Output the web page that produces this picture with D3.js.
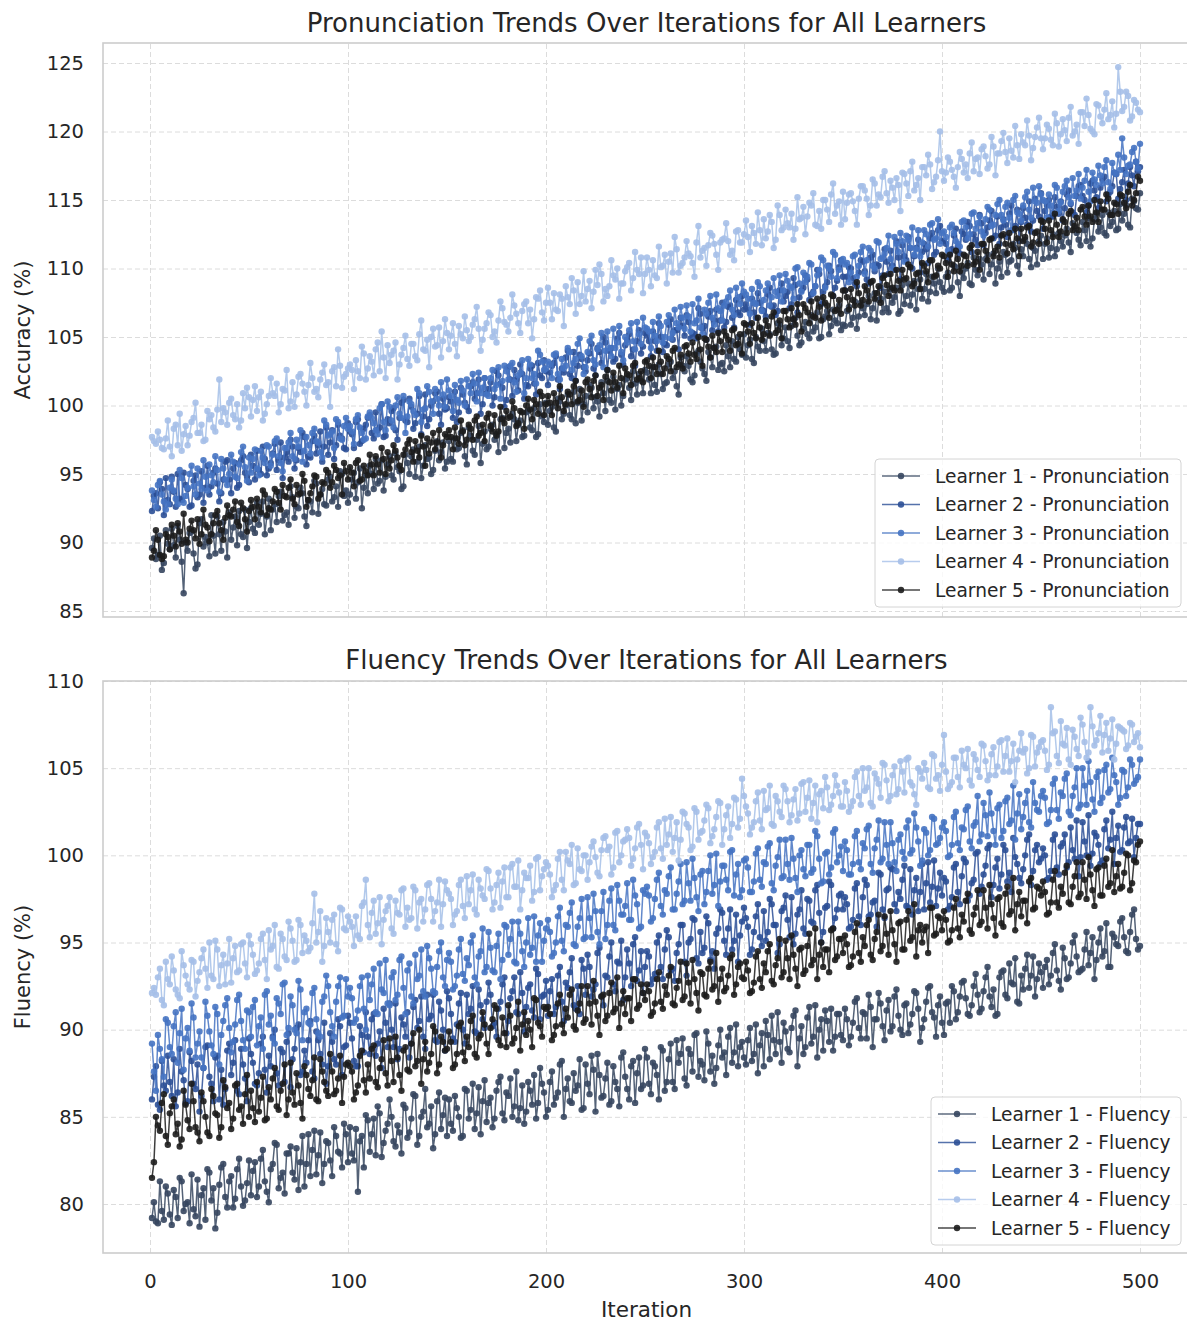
<!DOCTYPE html>
<html lang="en">
<head>
<meta charset="utf-8">
<script src="https://d3js.org/d3.v7.min.js"></script>
<style>
  body { margin: 0; background: #fff; }
  text { font-family: "DejaVu Sans", sans-serif; fill: #262626; }
  .grid line { stroke: #dcdcdc; stroke-dasharray: 5,3; stroke-width: 1; }
  .grid path { display: none; }
  .tick-label text { font-size: 19.5px; }
  .legend text { font-size: 18.6px; }
</style>
</head>
<body>
<div id="chart"></div>
<script>
/* Data */
var learners = ["Learner 1", "Learner 2", "Learner 3", "Learner 4", "Learner 5"];
var colors = ["#36465f", "#2b4f96", "#4573c2", "#a5bfe8", "#1c1c1c"];
var oddIterations = d3.range(1, 501, 2);
var evenIterations = d3.range(2, 501, 2);
var iterationTicks = [0, 100, 200, 300, 400, 500];
var accuracyTicks = [85, 90, 95, 100, 105, 110, 115, 120, 125];
var fluencyTicks = [80, 85, 90, 95, 100, 105, 110];

/* Pronunciation accuracy, odd iterations */
var pron1Odd = [
  89.6, 88.8, 90.5, 88.5, 89.9, 91.0, 88.9, 90.2, 86.3, 89.4, 90.8, 88.1, 91.4, 89.7, 90.0, 92.0, 89.2, 90.6, 91.5, 88.9, 90.2, 91.9, 92.3, 90.4, 89.6,
  92.5, 90.7, 91.3, 93.0, 91.9, 90.9, 92.8, 93.4, 91.6, 92.2, 94.1, 91.8, 92.5, 93.6, 91.2, 93.0, 94.5, 92.1, 93.9, 92.7, 94.8, 93.3, 92.6, 95.0, 93.8,
  93.5, 95.1, 94.4, 92.5, 94.9, 95.6, 93.9, 94.3, 96.0, 94.8, 96.3, 94.6, 95.5, 93.9, 96.4, 95.0, 96.8, 95.9, 94.7, 97.1, 96.2, 95.3, 97.4, 96.6, 95.4,
  97.4, 95.9, 96.8, 98.0, 96.3, 98.4, 96.7, 97.5, 95.8, 98.1, 97.0, 98.6, 97.9, 99.0, 96.9, 98.3, 99.4, 97.4, 98.9, 97.8, 99.6, 98.2, 97.7, 100.1, 98.8,
  98.6, 99.9, 98.1, 100.3, 99.4, 100.8, 99.0, 98.7, 101.2, 100.1, 99.5, 101.3, 100.6, 99.2, 100.9, 101.8, 100.2, 99.7, 101.5, 100.7, 102.0, 100.4, 101.6, 102.3, 100.9,
  102.4, 100.9, 101.5, 103.0, 101.2, 101.7, 103.2, 102.5, 100.8, 102.9, 103.6, 101.9, 102.2, 104.0, 102.7, 101.8, 103.5, 104.2, 102.6, 103.1, 104.4, 102.8, 103.4, 105.0, 103.7,
  103.5, 104.8, 103.1, 104.3, 105.6, 104.0, 105.2, 103.7, 106.0, 104.4, 105.7, 104.2, 106.3, 105.1, 104.6, 106.1, 104.9, 105.4, 106.8, 105.0, 106.5, 105.2, 107.0, 106.0, 105.5,
  105.8, 107.2, 106.4, 105.6, 107.5, 106.6, 108.0, 107.1, 106.2, 107.8, 108.3, 106.8, 107.5, 108.6, 106.9, 107.4, 108.9, 108.1, 107.0, 109.2, 108.5, 107.6, 109.4, 108.2, 109.0,
  108.3, 109.7, 108.6, 110.1, 108.0, 109.3, 110.4, 108.8, 109.9, 110.7, 109.2, 111.0, 110.3, 108.9, 110.5, 111.2, 109.7, 110.6, 111.5, 109.6, 110.9, 111.8, 110.1, 111.3, 112.0,
  110.7, 112.2, 111.5, 110.9, 112.6, 111.6, 112.9, 111.2, 113.0, 112.1, 113.4, 112.0, 111.6, 113.6, 112.7, 113.9, 112.4, 113.1, 114.2, 112.9, 113.5, 114.6, 113.0, 114.9, 114.3
];
var pron2Odd = [
  92.3, 93.6, 94.4, 92.0, 93.1, 94.8, 92.6, 93.2, 95.1, 93.9, 92.7, 94.9, 93.5, 92.9, 95.6, 94.1, 95.4, 93.0, 94.6, 96.0, 93.6, 95.8, 94.2, 96.3, 94.8,
  96.4, 94.6, 95.3, 97.0, 94.9, 95.8, 97.2, 96.0, 94.7, 96.6, 97.5, 95.4, 96.9, 98.0, 95.7, 96.2, 97.8, 97.1, 95.9, 98.4, 97.3, 96.1, 98.6, 97.6, 96.8,
  98.1, 96.9, 99.0, 97.4, 98.6, 99.3, 97.6, 98.2, 100.1, 97.8, 98.7, 99.8, 97.5, 100.2, 98.9, 100.5, 98.3, 99.4, 97.9, 100.8, 99.0, 100.3, 101.0, 98.6, 99.7,
  100.6, 99.1, 98.8, 101.3, 100.2, 99.6, 101.7, 100.9, 99.4, 102.0, 101.2, 100.0, 102.5, 101.6, 99.9, 102.8, 100.7, 101.9, 103.0, 100.5, 101.4, 102.9, 100.8, 102.2, 103.3,
  101.5, 102.9, 103.6, 101.2, 102.4, 104.0, 102.0, 101.8, 103.7, 102.8, 103.3, 104.5, 102.2, 103.9, 105.0, 102.6, 104.2, 103.4, 105.3, 103.0, 104.8, 103.6, 102.9, 105.5, 104.3,
  105.1, 103.6, 104.7, 106.0, 103.9, 104.4, 106.3, 105.5, 104.1, 105.8, 106.6, 104.9, 105.2, 107.1, 105.6, 104.8, 106.9, 106.2, 105.4, 107.5, 106.1, 107.3, 105.7, 106.8, 108.0,
  107.4, 105.9, 106.8, 108.2, 107.0, 106.5, 108.6, 107.3, 106.9, 108.9, 108.0, 107.1, 109.3, 106.8, 108.4, 109.5, 107.7, 108.3, 109.9, 107.4, 108.7, 110.2, 108.0, 109.1, 110.6,
  108.4, 110.1, 109.3, 108.7, 110.6, 109.8, 108.9, 111.0, 110.3, 108.6, 111.4, 109.6, 110.2, 112.0, 109.2, 110.9, 112.3, 110.0, 111.5, 109.7, 111.8, 110.4, 112.6, 111.2, 113.1,
  112.0, 110.6, 111.4, 112.9, 111.1, 112.5, 113.4, 111.2, 112.1, 113.9, 111.7, 113.0, 114.2, 112.4, 111.8, 113.6, 112.3, 114.6, 113.1, 112.0, 114.4, 113.2, 112.7, 115.1, 113.8,
  112.9, 114.6, 113.8, 115.2, 114.0, 113.5, 115.4, 114.7, 113.9, 116.0, 115.3, 114.1, 116.2, 115.7, 114.4, 116.5, 114.9, 115.6, 117.0, 115.1, 116.3, 115.0, 117.4, 116.0, 117.1
];
var pron3Odd = [
  93.8, 92.6, 94.5, 93.0, 92.8, 94.6, 93.2, 95.3, 92.9, 94.0, 95.6, 93.5, 94.3, 96.0, 93.8, 94.9, 96.3, 93.7, 95.4, 94.2, 96.4, 94.8, 95.7, 97.0, 94.5,
  95.1, 96.8, 94.9, 96.2, 97.1, 95.6, 97.4, 96.3, 95.2, 96.9, 98.0, 96.1, 97.0, 95.9, 97.7, 96.5, 98.3, 97.3, 96.2, 98.6, 97.9, 96.9, 98.8, 97.5, 99.1,
  98.5, 97.2, 99.3, 98.0, 97.6, 99.5, 98.7, 97.9, 100.1, 98.2, 99.9, 98.4, 100.6, 99.1, 98.0, 100.3, 99.6, 101.2, 98.8, 99.8, 101.0, 99.4, 100.5, 101.7, 99.9,
  101.1, 99.6, 100.4, 101.8, 100.0, 101.4, 102.3, 100.3, 100.9, 102.0, 100.7, 102.6, 101.5, 100.5, 102.9, 101.9, 103.1, 101.0, 102.4, 100.9, 103.4, 102.0, 101.6, 103.7, 102.6,
  103.2, 102.0, 103.8, 101.9, 102.7, 104.2, 102.6, 103.4, 104.9, 102.3, 103.9, 105.1, 103.0, 104.4, 102.8, 105.4, 103.6, 104.2, 105.8, 103.3, 104.6, 106.0, 104.1, 105.2, 106.4,
  105.6, 104.2, 105.1, 106.5, 104.6, 106.1, 104.9, 107.0, 105.7, 106.4, 107.3, 105.4, 106.0, 107.8, 105.2, 106.7, 108.0, 105.9, 107.1, 106.2, 107.6, 108.4, 106.6, 107.9, 108.9,
  108.1, 106.7, 107.5, 109.0, 106.9, 108.4, 107.3, 109.3, 108.0, 107.6, 109.6, 108.7, 107.8, 110.1, 108.3, 109.0, 110.4, 108.2, 109.5, 110.8, 108.6, 110.0, 111.2, 109.3, 110.5,
  110.3, 109.0, 110.9, 109.4, 111.2, 109.6, 111.5, 110.2, 112.0, 110.7, 111.1, 112.4, 110.0, 111.8, 112.6, 110.5, 112.1, 113.0, 111.4, 110.9, 112.8, 111.6, 113.3, 112.2, 111.8,
  112.7, 111.3, 113.2, 112.0, 111.6, 113.5, 112.2, 114.0, 112.9, 113.8, 112.4, 114.5, 113.1, 113.9, 115.0, 113.5, 114.8, 112.8, 115.3, 114.0, 114.6, 115.6, 113.7, 114.9, 116.0,
  115.0, 113.7, 114.6, 116.1, 114.2, 115.6, 116.4, 114.8, 115.3, 116.9, 115.9, 117.2, 114.9, 116.5, 117.5, 116.2, 117.9, 115.8, 117.0, 118.3, 119.5, 116.9, 117.6, 118.8, 117.3
];
var pron4Odd = [
  97.7, 97.2, 97.5, 96.8, 98.9, 96.3, 98.6, 99.4, 97.9, 97.1, 98.8, 100.2, 98.0, 97.4, 99.6, 99.3, 98.1, 101.9, 99.8, 98.6, 100.5, 99.0, 98.4, 100.9, 101.3,
  99.2, 101.4, 100.6, 98.9, 100.1, 102.0, 100.7, 99.5, 101.2, 102.6, 100.3, 99.9, 102.1, 101.6, 100.0, 103.1, 101.0, 100.6, 102.4, 101.5, 99.9, 102.8, 104.1, 101.3, 102.3,
  103.0, 101.2, 102.5, 104.3, 101.9, 103.6, 102.2, 104.6, 105.4, 102.0, 103.1, 104.0, 101.9, 103.7, 105.1, 102.9, 104.5, 103.3, 106.2, 104.0, 102.8, 105.6, 104.4, 103.5, 106.3,
  104.1, 106.0, 103.6, 105.2, 106.5, 104.7, 105.9, 107.2, 104.0, 105.6, 106.8, 105.0, 104.6, 107.6, 106.1, 105.4, 108.1, 106.7, 105.3, 107.4, 106.0, 104.9, 107.9, 108.4, 106.2,
  108.6, 106.3, 107.0, 108.1, 105.8, 107.9, 109.3, 106.7, 107.4, 109.8, 108.5, 107.1, 109.9, 110.3, 107.6, 108.0, 110.6, 109.2, 107.8, 108.9, 110.1, 108.4, 111.2, 109.6, 108.2,
  110.8, 108.7, 109.5, 111.6, 110.2, 108.9, 111.1, 112.3, 109.7, 110.4, 112.0, 110.9, 109.4, 113.1, 111.3, 110.2, 112.6, 111.8, 109.9, 112.1, 113.3, 111.0, 110.6, 112.8, 111.9,
  113.5, 111.2, 112.6, 114.1, 111.7, 112.2, 113.9, 111.5, 114.6, 112.8, 114.3, 113.0, 112.1, 115.2, 113.7, 112.5, 114.8, 115.5, 113.1, 112.9, 115.0, 113.4, 116.2, 114.6, 113.2,
  113.6, 115.4, 114.9, 113.2, 116.0, 115.7, 113.9, 116.5, 114.6, 115.2, 117.1, 114.8, 115.9, 116.6, 114.2, 116.9, 115.3, 117.8, 116.1, 115.0, 117.4, 118.3, 115.8, 116.7, 120.0,
  116.4, 118.1, 117.2, 115.9, 118.5, 117.0, 116.6, 119.2, 118.0, 116.9, 118.9, 117.3, 119.6, 116.8, 118.4, 119.9, 117.7, 118.6, 120.4, 118.0, 119.2, 120.8, 117.9, 119.6, 121.0,
  118.7, 120.5, 119.4, 121.3, 118.9, 120.9, 119.3, 121.8, 120.0, 119.1, 121.4, 122.4, 120.2, 119.8, 121.9, 120.6, 122.8, 121.2, 120.3, 124.7, 121.5, 122.9, 120.8, 122.3, 121.6
];
var pron5Odd = [
  88.9, 90.9, 89.1, 89.0, 90.4, 91.3, 89.7, 90.8, 92.1, 90.0, 91.6, 90.3, 89.9, 92.4, 91.1, 90.6, 92.0, 91.4, 90.2, 92.7, 91.9, 93.0, 91.2, 92.5, 90.8,
  93.1, 91.7, 92.6, 93.8, 92.0, 92.4, 93.9, 92.9, 94.2, 93.3, 94.6, 92.8, 93.5, 95.0, 92.6, 93.6, 94.9, 93.2, 94.4, 95.3, 94.0, 95.6, 94.7, 93.5, 95.2,
  95.5, 94.1, 96.0, 94.6, 95.2, 96.4, 94.9, 95.7, 96.9, 95.0, 95.4, 97.1, 96.2, 95.3, 96.8, 97.5, 95.9, 96.7, 97.8, 95.6, 96.5, 98.0, 97.3, 96.2, 97.9,
  98.2, 96.8, 97.6, 98.9, 97.1, 98.6, 97.5, 99.2, 98.0, 97.4, 99.4, 98.1, 97.8, 99.9, 98.7, 99.1, 100.3, 98.5, 99.6, 98.3, 100.5, 99.0, 100.1, 101.0, 99.3,
  100.7, 99.3, 100.2, 101.4, 99.6, 101.0, 100.1, 101.8, 100.4, 99.9, 101.9, 100.6, 102.2, 101.3, 100.4, 102.6, 101.1, 101.7, 102.9, 100.9, 102.3, 101.5, 103.1, 102.0, 101.7,
  103.3, 102.0, 102.8, 104.0, 102.3, 103.6, 102.5, 104.2, 103.0, 102.7, 104.4, 103.2, 103.7, 105.0, 102.9, 104.8, 103.5, 104.2, 105.3, 103.9, 105.1, 104.0, 105.6, 104.5, 103.8,
  105.9, 104.5, 105.3, 106.4, 104.8, 106.2, 105.1, 106.8, 105.5, 104.9, 106.9, 105.7, 106.3, 107.4, 105.4, 107.1, 106.0, 106.5, 107.8, 106.2, 107.5, 106.4, 108.0, 107.0, 106.7,
  108.4, 107.0, 107.7, 109.0, 107.3, 108.7, 107.6, 109.1, 108.2, 107.5, 109.5, 108.0, 108.6, 109.9, 108.4, 109.2, 110.3, 108.7, 109.6, 108.5, 110.2, 109.0, 110.6, 109.5, 110.0,
  110.9, 109.4, 110.3, 111.3, 109.8, 111.0, 110.2, 111.7, 110.5, 109.9, 111.8, 110.6, 112.2, 111.3, 110.8, 112.5, 111.1, 111.7, 112.9, 110.9, 112.0, 113.0, 111.6, 112.6, 111.8,
  113.4, 111.9, 112.8, 114.0, 112.3, 113.6, 112.6, 114.2, 113.1, 112.8, 114.5, 113.2, 113.8, 115.0, 113.4, 114.3, 115.4, 113.9, 114.8, 114.0, 115.3, 114.4, 116.1, 115.0, 116.7
];

/* Pronunciation accuracy, even iterations */
var pron1Even = [
  90.3, 89.1, 88.0, 90.9, 89.5, 89.8, 91.2, 88.6, 90.0, 90.7, 89.2, 88.4, 91.7, 90.4, 89.0, 90.5, 91.9, 89.4, 90.8, 92.2, 91.1, 89.8, 90.6, 92.4, 91.5,
  91.0, 92.9, 92.1, 90.6, 93.2, 92.4, 91.5, 93.7, 92.0, 91.3, 93.3, 92.6, 94.0, 91.9, 93.1, 92.2, 94.3, 93.5, 92.8, 94.6, 93.0, 94.1, 95.2, 93.4, 92.9,
  94.6, 93.2, 95.4, 94.0, 93.6, 95.0, 96.1, 94.5, 93.8, 95.7, 94.9, 96.5, 95.2, 94.1, 95.8, 96.3, 94.8, 97.0, 95.6, 96.1, 95.0, 96.7, 96.0, 97.3, 95.9,
  96.1, 97.6, 96.9, 98.2, 95.7, 97.8, 96.4, 98.5, 97.2, 96.8, 98.3, 97.5, 96.6, 99.1, 98.0, 97.3, 99.0, 98.6, 97.7, 99.5, 98.4, 99.8, 97.9, 99.2, 100.2,
  99.6, 98.4, 100.5, 99.0, 100.0, 99.3, 101.0, 100.2, 98.9, 100.7, 101.5, 99.8, 100.3, 101.7, 99.6, 100.4, 102.1, 101.2, 100.0, 101.9, 101.3, 102.5, 100.8, 101.8, 102.6,
  101.9, 102.8, 101.0, 102.3, 101.6, 103.0, 102.0, 101.4, 103.5, 102.5, 102.9, 101.7, 103.8, 103.2, 102.3, 103.9, 102.8, 104.3, 103.0, 102.5, 103.6, 104.7, 103.2, 104.1, 105.2,
  104.4, 103.4, 105.0, 104.0, 104.7, 105.3, 104.1, 103.8, 105.9, 104.9, 104.7, 105.8, 106.4, 104.4, 105.6, 105.2, 106.6, 105.7, 104.9, 106.3, 106.9, 105.8, 106.2, 107.3, 105.9,
  106.9, 105.9, 107.6, 106.5, 107.1, 107.4, 106.3, 108.2, 107.7, 106.8, 107.1, 108.5, 107.9, 106.7, 108.8, 108.0, 107.3, 109.1, 108.5, 107.8, 109.6, 108.3, 108.9, 110.0, 108.6,
  109.4, 108.4, 110.2, 109.0, 109.7, 110.0, 108.9, 110.8, 109.5, 110.3, 110.7, 109.6, 111.1, 110.0, 109.4, 111.0, 110.5, 111.8, 110.2, 111.4, 112.1, 110.7, 111.5, 110.3, 112.4,
  111.8, 110.8, 112.5, 111.4, 112.0, 112.4, 111.9, 113.3, 112.6, 111.7, 112.8, 113.7, 112.2, 114.0, 113.0, 112.6, 114.1, 113.4, 112.8, 114.7, 114.0, 113.2, 115.1, 114.4, 115.5
];
var pron2Even = [
  93.4, 92.5, 93.9, 94.7, 92.8, 93.7, 95.0, 93.1, 94.2, 92.6, 94.5, 93.3, 95.2, 94.0, 93.5, 95.1, 94.3, 93.6, 95.9, 94.6, 95.4, 94.0, 96.0, 95.1, 94.4,
  95.6, 96.7, 95.0, 96.1, 95.4, 96.5, 95.3, 97.3, 96.2, 95.9, 97.0, 96.0, 96.6, 97.7, 96.3, 97.4, 96.5, 98.1, 97.0, 96.4, 98.2, 97.1, 97.8, 96.9, 98.7,
  97.9, 98.8, 97.2, 98.3, 99.1, 98.0, 99.5, 98.4, 97.7, 99.0, 99.6, 98.2, 99.1, 100.4, 98.8, 99.9, 98.7, 100.7, 99.2, 98.5, 100.0, 100.9, 99.4, 100.5, 99.8,
  100.3, 101.0, 99.5, 100.8, 99.9, 101.4, 100.5, 101.9, 100.1, 100.9, 101.7, 100.6, 102.2, 101.3, 100.4, 101.9, 102.6, 101.1, 102.3, 101.5, 102.7, 101.6, 103.1, 102.0, 102.5,
  102.4, 103.1, 101.9, 102.7, 103.5, 102.3, 103.9, 102.9, 103.4, 102.5, 103.8, 102.7, 104.2, 103.1, 104.6, 104.0, 103.2, 104.9, 103.7, 104.4, 105.2, 104.1, 104.7, 103.8, 105.3,
  104.7, 105.4, 104.0, 105.0, 104.5, 105.9, 104.8, 105.5, 106.4, 105.1, 106.1, 105.3, 104.9, 106.7, 105.8, 106.5, 105.5, 107.0, 106.2, 105.7, 107.2, 106.4, 107.7, 106.6, 107.0,
  107.0, 107.8, 106.4, 107.5, 106.9, 108.1, 107.2, 106.6, 108.4, 107.6, 108.3, 107.4, 108.8, 107.9, 108.6, 109.2, 108.1, 108.7, 109.6, 108.3, 109.0, 109.8, 108.6, 110.1, 109.4,
  109.4, 110.0, 108.9, 109.7, 110.5, 109.2, 110.8, 109.8, 110.2, 109.5, 110.5, 111.3, 109.9, 110.8, 111.7, 110.6, 111.5, 110.9, 112.1, 111.2, 111.4, 112.2, 111.0, 112.8, 112.0,
  111.8, 111.1, 112.4, 111.6, 112.7, 112.1, 113.1, 112.5, 111.7, 113.3, 112.6, 113.5, 112.2, 113.8, 113.0, 113.2, 114.0, 112.8, 114.3, 113.4, 113.7, 114.9, 113.5, 114.2, 115.5,
  114.2, 115.0, 113.8, 114.5, 114.9, 114.4, 115.7, 114.1, 115.3, 116.1, 115.0, 114.6, 116.4, 115.2, 115.9, 116.7, 115.4, 116.0, 116.9, 115.8, 117.2, 116.2, 116.8, 117.8, 117.4
];
var pron3Even = [
  93.1, 94.2, 93.5, 92.4, 94.0, 93.8, 92.8, 94.7, 93.4, 95.0, 94.1, 95.4, 93.9, 94.8, 95.7, 94.4, 95.3, 96.1, 94.6, 95.0, 95.9, 94.7, 96.6, 95.5, 96.2,
  96.1, 95.4, 96.7, 95.8, 97.0, 96.4, 97.6, 95.8, 96.9, 97.3, 96.3, 97.5, 98.2, 96.7, 97.1, 98.0, 97.4, 96.6, 98.9, 97.8, 98.1, 99.0, 97.6, 98.5, 98.3,
  98.1, 99.0, 98.4, 97.5, 99.2, 99.1, 98.2, 99.8, 98.8, 100.3, 98.9, 100.0, 99.4, 100.7, 99.2, 100.1, 99.3, 100.9, 99.7, 101.4, 100.3, 101.2, 100.0, 100.8, 101.9,
  100.7, 101.5, 100.2, 101.1, 101.9, 100.9, 101.6, 102.4, 101.3, 100.8, 102.0, 101.2, 102.8, 101.8, 102.5, 102.9, 101.7, 102.2, 103.3, 102.0, 103.0, 102.3, 104.0, 103.2, 102.7,
  103.0, 103.7, 102.3, 103.4, 102.9, 103.9, 103.1, 104.5, 103.6, 102.8, 104.7, 103.3, 104.1, 105.3, 104.0, 104.2, 105.6, 104.6, 103.9, 105.0, 105.5, 104.7, 106.1, 104.5, 105.7,
  105.4, 106.1, 104.7, 105.8, 105.0, 106.6, 105.3, 106.0, 107.2, 105.6, 106.5, 107.4, 106.2, 105.7, 107.0, 107.5, 106.4, 108.1, 106.9, 107.3, 107.9, 107.0, 108.6, 107.4, 108.3,
  107.8, 108.5, 107.4, 108.7, 107.7, 108.9, 107.9, 108.3, 109.5, 108.4, 109.1, 108.6, 110.0, 108.9, 109.7, 109.4, 110.3, 108.7, 109.9, 110.6, 110.2, 109.4, 111.0, 109.9, 110.7,
  110.4, 109.7, 111.0, 110.2, 111.6, 110.6, 111.3, 110.0, 111.9, 110.8, 111.5, 110.7, 112.3, 111.2, 112.0, 112.4, 111.5, 111.0, 112.8, 111.9, 112.5, 113.2, 112.1, 113.6, 112.6,
  112.3, 113.0, 112.6, 111.8, 113.4, 113.0, 112.5, 114.1, 113.3, 112.7, 113.6, 114.3, 113.2, 114.7, 113.9, 114.5, 113.7, 115.0, 114.1, 113.5, 115.2, 114.3, 115.9, 114.8, 115.4,
  114.9, 115.4, 114.1, 115.9, 114.8, 116.0, 115.2, 116.6, 115.7, 115.1, 116.4, 115.6, 117.0, 116.1, 116.8, 117.4, 116.3, 117.7, 116.9, 117.2, 118.1, 117.5, 118.5, 117.8, 119.1
];
var pron4Even = [
  97.4, 98.1, 96.9, 97.6, 97.0, 98.3, 97.1, 96.7, 98.5, 97.8, 99.1, 98.0, 98.6, 97.5, 99.0, 98.4, 99.7, 98.8, 99.5, 100.2, 99.3, 100.1, 98.9, 99.8, 100.6,
  100.4, 99.6, 101.0, 99.4, 100.7, 100.9, 101.6, 100.1, 101.1, 99.8, 101.7, 100.8, 102.3, 101.0, 101.5, 102.0, 101.2, 101.9, 103.0, 101.7, 102.5, 101.4, 102.9, 102.1, 102.7,
  102.6, 103.3, 102.0, 103.8, 102.7, 103.2, 104.1, 102.5, 103.5, 104.4, 103.7, 104.6, 103.0, 104.2, 103.4, 104.5, 103.6, 105.2, 104.1, 104.8, 105.0, 104.3, 105.7, 104.7, 105.3,
  105.1, 104.5, 105.8, 104.9, 105.5, 105.0, 106.3, 105.6, 104.8, 106.0, 106.6, 105.4, 106.2, 107.1, 105.9, 106.4, 107.3, 106.0, 106.9, 107.6, 107.0, 106.3, 107.8, 106.8, 107.5,
  107.5, 108.2, 106.9, 107.8, 108.7, 107.4, 108.4, 109.0, 108.0, 107.6, 109.1, 108.3, 108.8, 109.6, 108.5, 108.7, 109.5, 110.0, 108.9, 109.8, 110.4, 109.3, 109.9, 110.8, 109.6,
  109.9, 110.6, 109.3, 110.1, 111.0, 110.5, 109.7, 111.4, 110.2, 110.8, 111.1, 110.4, 111.9, 110.8, 111.5, 111.7, 112.4, 111.0, 111.9, 112.2, 112.0, 111.3, 112.7, 111.9, 112.5,
  112.3, 113.1, 111.8, 112.8, 113.6, 112.7, 113.4, 112.1, 113.9, 113.0, 113.3, 114.0, 112.9, 113.6, 114.5, 113.8, 114.6, 113.2, 114.2, 115.0, 114.3, 115.4, 114.0, 114.9, 115.6,
  114.8, 115.5, 114.2, 115.1, 116.0, 115.1, 114.6, 116.2, 115.4, 116.7, 115.5, 116.4, 115.0, 116.1, 117.0, 116.2, 117.1, 115.7, 116.6, 117.4, 116.8, 117.6, 116.3, 117.9, 117.1,
  117.0, 117.8, 116.7, 117.4, 118.0, 117.6, 118.4, 117.1, 118.1, 118.7, 118.2, 117.6, 118.9, 118.4, 119.3, 118.5, 119.5, 118.1, 119.0, 119.8, 119.0, 119.7, 118.8, 120.3, 119.5,
  119.5, 120.2, 119.0, 120.6, 119.8, 120.1, 121.0, 119.7, 120.5, 121.4, 120.4, 121.2, 120.0, 122.0, 121.1, 121.6, 120.9, 122.2, 121.3, 122.9, 121.8, 122.6, 121.1, 122.1, 121.4
];
var pron5Even = [
  89.4, 90.2, 88.8, 90.6, 89.5, 90.5, 91.4, 89.9, 90.2, 91.0, 90.9, 91.7, 90.6, 91.3, 90.1, 91.4, 92.3, 90.9, 91.8, 92.0, 92.4, 91.5, 92.9, 91.7, 92.3,
  92.6, 93.2, 92.2, 93.5, 92.5, 93.0, 93.7, 92.4, 93.4, 94.0, 93.2, 94.2, 93.6, 94.5, 93.1, 94.1, 94.8, 93.5, 94.3, 95.1, 94.4, 95.3, 94.9, 95.8, 94.6,
  95.1, 95.8, 94.5, 95.6, 94.9, 95.7, 96.3, 95.1, 96.1, 96.6, 96.0, 96.7, 95.6, 96.4, 97.2, 96.6, 97.4, 96.2, 97.0, 97.6, 97.3, 96.8, 98.2, 97.1, 97.7,
  97.7, 98.4, 97.2, 98.1, 97.5, 98.3, 98.9, 97.8, 98.6, 99.1, 98.5, 99.3, 98.1, 99.0, 99.6, 99.2, 99.8, 98.7, 99.5, 100.0, 99.7, 100.4, 99.4, 100.7, 100.1,
  100.2, 100.9, 99.8, 100.6, 100.1, 100.8, 101.4, 100.3, 101.1, 101.7, 101.2, 101.8, 100.7, 101.5, 102.1, 101.7, 102.4, 101.3, 102.0, 102.7, 102.2, 102.9, 101.9, 102.5, 103.2,
  102.9, 103.5, 102.3, 103.2, 102.7, 103.4, 104.0, 102.8, 103.7, 104.3, 103.8, 104.6, 103.4, 104.1, 104.9, 104.3, 105.1, 103.9, 104.7, 105.4, 104.8, 105.5, 104.4, 105.2, 106.0,
  105.4, 106.0, 104.9, 105.7, 105.2, 105.8, 106.5, 105.3, 106.2, 106.9, 106.3, 107.1, 105.9, 106.6, 107.4, 106.8, 107.6, 106.4, 107.2, 107.9, 107.3, 108.1, 106.9, 107.7, 108.4,
  107.9, 108.5, 107.3, 108.2, 107.7, 108.4, 109.0, 107.8, 108.7, 109.3, 108.8, 109.6, 108.4, 109.1, 109.9, 109.3, 110.1, 108.9, 109.7, 110.4, 109.8, 110.6, 109.4, 110.2, 111.0,
  110.4, 111.0, 109.8, 110.7, 110.2, 110.9, 111.5, 110.3, 111.2, 111.8, 111.3, 112.1, 110.9, 111.6, 112.4, 111.8, 112.6, 111.4, 112.2, 112.9, 112.3, 113.1, 111.9, 112.7, 113.5,
  112.9, 113.5, 112.3, 113.2, 112.7, 113.4, 114.0, 112.8, 113.7, 114.3, 113.8, 114.6, 113.4, 114.1, 114.9, 114.3, 115.1, 113.9, 114.7, 115.4, 114.8, 115.6, 114.6, 115.5, 116.4
];

/* Fluency, odd iterations */
var flu1Odd = [
  79.2, 79.0, 81.3, 79.1, 80.6, 78.8, 80.4, 81.5, 79.6, 80.1, 81.7, 79.3, 78.7, 80.9, 82.0, 80.2, 78.6, 81.1, 82.3, 79.8, 81.6, 80.3, 82.6, 79.9, 81.2,
  80.5, 82.4, 81.0, 83.1, 80.7, 82.0, 83.5, 80.9, 81.8, 82.9, 83.3, 81.4, 80.8, 83.9, 82.3, 81.6, 84.2, 82.8, 81.2, 83.6, 82.5, 84.4, 83.0, 82.1, 84.0,
  84.4, 82.5, 80.7, 83.9, 85.1, 83.0, 84.9, 85.6, 82.7, 84.2, 86.0, 83.6, 84.5, 82.9, 85.5, 84.1, 86.3, 83.4, 85.0, 86.6, 84.6, 83.2, 85.9, 84.3, 86.1,
  86.0, 84.2, 85.5, 83.8, 86.6, 84.9, 86.9, 85.2, 84.0, 87.1, 85.8, 84.4, 86.5, 87.3, 84.8, 86.2, 85.0, 87.6, 85.5, 84.6, 87.0, 85.7, 84.9, 87.8, 86.4,
  85.4, 87.6, 86.1, 88.0, 85.0, 87.2, 85.8, 86.5, 88.3, 85.5, 86.9, 88.5, 85.3, 87.4, 86.2, 88.1, 85.9, 87.0, 85.6, 88.7, 86.6, 87.9, 85.8, 88.4, 86.8,
  88.4, 86.3, 87.9, 86.0, 88.8, 87.0, 89.2, 86.6, 88.1, 89.5, 86.8, 88.6, 89.7, 87.3, 88.0, 89.9, 87.6, 86.9, 89.1, 88.4, 87.4, 90.1, 88.7, 87.9, 89.3,
  88.0, 90.1, 88.6, 87.5, 89.8, 90.5, 88.3, 89.4, 91.0, 88.1, 89.9, 88.7, 90.8, 87.9, 90.2, 89.0, 91.3, 89.6, 88.4, 90.6, 91.1, 89.3, 88.8, 90.9, 89.7,
  91.2, 89.1, 90.4, 91.8, 89.5, 90.9, 92.0, 89.0, 90.6, 91.5, 89.4, 91.7, 90.2, 92.3, 90.0, 91.4, 89.8, 90.9, 92.1, 89.3, 90.6, 92.4, 91.0, 89.6, 91.9,
  89.7, 91.6, 92.5, 90.6, 91.9, 92.8, 90.9, 91.4, 93.2, 91.0, 92.2, 93.6, 91.3, 90.8, 93.0, 93.4, 91.8, 92.7, 94.1, 91.5, 92.3, 94.3, 93.1, 91.9, 93.8,
  92.4, 94.0, 93.1, 94.9, 92.8, 94.7, 92.9, 93.8, 95.4, 93.3, 93.5, 95.6, 94.4, 92.9, 95.0, 94.2, 96.1, 93.6, 95.3, 94.8, 96.4, 94.5, 95.6, 96.9, 94.6
];
var flu2Odd = [
  86.0, 87.9, 85.4, 86.8, 88.5, 86.2, 85.6, 88.9, 87.1, 85.9, 88.2, 86.6, 85.3, 87.8, 89.1, 86.9, 88.4, 86.0, 85.7, 88.8, 87.4, 89.4, 86.3, 88.0, 85.9,
  88.6, 86.9, 87.5, 89.6, 86.4, 87.9, 90.0, 86.8, 88.7, 89.3, 86.7, 88.9, 90.3, 87.6, 88.1, 90.5, 87.2, 89.4, 88.0, 86.9, 89.8, 88.3, 90.6, 87.4, 89.1,
  90.4, 88.2, 87.9, 89.7, 91.0, 88.6, 90.9, 89.2, 87.8, 90.4, 91.5, 89.0, 88.3, 90.7, 89.6, 88.4, 91.3, 90.1, 91.9, 88.9, 90.6, 92.0, 89.3, 91.1, 88.8,
  91.8, 89.5, 90.3, 92.1, 89.2, 90.9, 92.5, 89.8, 91.4, 90.1, 92.7, 90.2, 89.6, 91.6, 93.0, 90.5, 92.2, 91.0, 93.3, 89.9, 92.4, 91.1, 93.5, 90.6, 92.0,
  90.8, 92.9, 91.3, 93.6, 90.5, 92.4, 94.1, 91.2, 90.9, 93.5, 94.3, 91.9, 92.6, 94.7, 91.4, 93.0, 95.0, 92.2, 93.8, 91.7, 94.6, 92.5, 95.3, 93.4, 92.1,
  94.5, 92.6, 93.2, 95.4, 92.9, 95.7, 93.4, 92.8, 94.9, 96.0, 93.1, 95.2, 96.3, 93.8, 94.4, 96.5, 94.0, 93.5, 95.8, 96.7, 94.3, 96.9, 95.1, 93.9, 96.2,
  96.4, 94.3, 95.6, 97.2, 94.8, 95.1, 97.5, 96.0, 94.4, 96.8, 97.7, 95.3, 94.9, 96.6, 98.0, 95.5, 97.4, 96.1, 98.3, 95.0, 97.0, 98.5, 95.8, 96.9, 97.8,
  97.6, 95.8, 96.3, 98.4, 96.0, 98.6, 96.5, 97.3, 95.9, 98.9, 96.4, 98.1, 99.2, 96.8, 97.5, 99.4, 97.0, 96.6, 98.7, 97.9, 96.9, 99.6, 98.2, 97.1, 99.0,
  98.7, 96.9, 97.6, 99.5, 97.2, 99.8, 97.4, 98.4, 100.1, 97.8, 98.9, 100.4, 97.6, 99.3, 98.1, 100.6, 98.5, 97.9, 99.9, 98.7, 99.2, 100.9, 98.3, 100.3, 99.6,
  100.4, 98.6, 99.1, 101.2, 98.9, 100.7, 99.3, 101.6, 99.8, 98.8, 101.9, 100.0, 99.4, 101.3, 100.6, 99.7, 102.0, 100.9, 99.5, 101.7, 100.3, 102.2, 100.8, 99.9, 101.8
];
var flu3Odd = [
  89.2, 86.5, 88.9, 87.3, 90.4, 88.6, 91.0, 89.8, 87.7, 90.1, 91.5, 88.4, 89.9, 87.8, 90.8, 89.1, 91.3, 88.0, 90.5, 91.8, 88.7, 90.3, 92.0, 89.4, 91.1,
  89.6, 91.7, 90.2, 88.9, 92.2, 90.8, 89.2, 91.5, 92.6, 89.7, 91.9, 90.0, 92.8, 89.4, 91.2, 90.3, 92.4, 89.8, 91.6, 93.1, 91.0, 89.6, 92.5, 90.7, 92.9,
  92.4, 90.4, 91.1, 93.0, 90.0, 91.7, 93.5, 90.9, 92.3, 94.0, 91.4, 93.3, 92.0, 94.2, 90.9, 93.8, 91.5, 92.9, 94.6, 91.9, 94.1, 92.2, 93.6, 95.0, 92.5,
  94.4, 92.3, 93.1, 95.2, 92.8, 93.7, 95.4, 92.6, 94.5, 93.3, 95.6, 93.4, 94.8, 92.9, 96.0, 94.3, 96.2, 93.8, 95.5, 93.6, 96.4, 94.7, 93.9, 96.1, 95.1,
  96.3, 94.2, 95.0, 97.0, 94.5, 95.9, 97.3, 94.8, 96.4, 95.2, 97.6, 95.3, 96.8, 94.9, 97.9, 96.0, 98.1, 95.7, 97.4, 96.6, 98.4, 96.3, 97.7, 95.8, 98.0,
  98.2, 96.2, 97.5, 99.0, 96.6, 97.8, 99.3, 96.9, 98.5, 97.2, 99.6, 97.4, 98.7, 96.8, 99.1, 97.9, 100.0, 98.3, 97.1, 99.4, 98.6, 100.2, 97.7, 99.5, 98.0,
  99.8, 97.9, 98.5, 100.4, 98.2, 99.5, 100.7, 98.0, 99.9, 98.7, 100.9, 98.6, 99.8, 97.9, 100.3, 98.8, 100.6, 99.2, 101.1, 98.4, 100.1, 98.9, 101.3, 99.6, 100.5,
  100.8, 98.9, 99.5, 101.4, 99.2, 100.4, 101.7, 99.0, 100.9, 99.6, 101.9, 99.5, 100.7, 99.1, 101.2, 99.8, 102.0, 100.3, 101.6, 99.4, 101.5, 100.0, 102.2, 100.6, 101.0,
  101.9, 99.9, 100.6, 102.5, 100.3, 101.5, 102.8, 100.4, 101.9, 100.8, 103.0, 101.1, 102.4, 100.6, 102.9, 101.4, 103.3, 102.0, 100.9, 103.5, 102.2, 103.7, 101.6, 103.0, 102.5,
  103.7, 101.8, 102.6, 104.4, 102.1, 103.4, 104.7, 102.3, 103.9, 102.7, 105.0, 102.9, 104.2, 102.5, 104.8, 103.3, 105.2, 103.8, 104.6, 102.9, 104.9, 103.4, 105.5, 104.1, 104.5
];
var flu4Odd = [
  92.1, 92.0, 93.5, 91.4, 92.9, 94.2, 92.3, 91.8, 93.7, 92.6, 94.0, 91.9, 93.3, 94.6, 92.4, 93.1, 95.1, 92.5, 94.3, 93.8, 92.7, 94.8, 93.4, 95.0, 93.0,
  94.9, 93.2, 93.8, 95.5, 92.9, 94.6, 96.0, 93.5, 95.2, 94.0, 95.8, 93.9, 96.3, 94.4, 95.1, 94.7, 97.8, 95.6, 93.9, 96.4, 95.0, 96.6, 94.5, 96.9, 95.7,
  96.2, 94.8, 95.4, 97.1, 98.6, 95.3, 97.4, 96.1, 94.9, 96.8, 97.6, 95.5, 96.7, 98.0, 95.9, 96.3, 98.2, 95.8, 97.5, 96.9, 98.4, 96.2, 97.3, 95.9, 98.5,
  97.8, 96.0, 96.8, 98.6, 96.4, 97.2, 98.9, 96.6, 98.1, 97.5, 99.1, 96.9, 98.3, 97.0, 99.3, 97.6, 99.5, 98.2, 96.9, 99.0, 98.7, 97.4, 99.8, 98.0, 99.2,
  99.4, 97.6, 98.3, 100.2, 98.0, 99.7, 100.6, 98.4, 99.2, 100.0, 98.6, 100.5, 99.9, 98.8, 101.0, 100.3, 98.9, 101.3, 99.6, 100.8, 101.5, 99.4, 100.4, 101.8, 99.2,
  101.1, 99.5, 100.2, 101.9, 99.8, 100.6, 102.2, 101.0, 99.7, 102.5, 101.8, 100.3, 102.7, 100.9, 101.4, 102.9, 100.7, 101.5, 103.1, 100.6, 102.3, 101.0, 103.3, 101.6, 104.4,
  102.8, 101.2, 101.9, 103.6, 101.5, 102.6, 104.0, 101.7, 103.1, 102.2, 103.8, 101.9, 103.2, 102.0, 104.1, 102.5, 104.3, 103.0, 101.9, 103.7, 104.5, 102.6, 103.4, 104.0, 102.8,
  104.2, 102.5, 103.1, 104.8, 102.9, 103.7, 105.0, 102.8, 104.4, 103.3, 105.2, 103.1, 104.6, 103.5, 105.4, 103.6, 105.6, 104.0, 102.9, 104.8, 105.3, 103.9, 105.8, 104.4, 103.7,
  106.9, 103.8, 104.2, 105.6, 103.9, 105.2, 106.1, 104.0, 105.5, 104.5, 106.3, 104.3, 105.8, 104.6, 106.5, 104.8, 106.7, 105.4, 104.2, 106.0, 105.9, 104.7, 106.9, 105.1, 106.2,
  106.6, 104.9, 108.5, 107.1, 105.3, 106.4, 107.3, 105.2, 106.8, 105.7, 107.5, 105.6, 108.5, 106.3, 107.0, 105.9, 107.6, 106.7, 105.5, 107.4, 107.2, 106.1, 107.6, 106.5, 107.0
];
var flu5Odd = [
  81.5, 85.0, 84.2, 86.3, 83.4, 85.6, 84.0, 83.3, 86.5, 84.8, 86.9, 84.4, 83.6, 85.9, 84.1, 86.6, 85.2, 83.8, 87.1, 85.5, 84.3, 86.8, 85.4, 84.6, 87.4,
  86.5, 84.7, 85.3, 87.3, 84.9, 86.0, 87.8, 85.4, 86.9, 85.1, 88.1, 85.7, 86.8, 84.9, 87.4, 86.2, 88.4, 85.9, 87.6, 86.5, 88.6, 86.3, 87.2, 85.8, 88.0,
  87.9, 86.0, 86.8, 88.8, 86.4, 87.2, 89.1, 86.7, 88.3, 87.5, 89.5, 87.0, 88.4, 86.5, 89.0, 87.6, 89.8, 88.2, 86.9, 89.3, 88.1, 90.2, 87.5, 89.6, 88.8,
  89.9, 87.8, 88.6, 90.4, 88.2, 89.0, 90.8, 88.4, 89.7, 90.3, 88.6, 90.6, 91.2, 89.1, 89.8, 91.4, 89.2, 90.1, 88.8, 91.0, 90.5, 89.0, 91.7, 90.2, 91.3,
  91.3, 89.4, 90.2, 92.0, 89.8, 90.7, 92.3, 90.0, 91.5, 90.4, 92.5, 90.3, 91.6, 89.7, 92.0, 90.8, 92.7, 91.2, 90.1, 92.2, 91.8, 90.5, 92.9, 91.4, 92.1,
  92.6, 90.8, 91.5, 93.3, 91.2, 92.0, 93.6, 91.4, 92.8, 91.7, 93.8, 91.5, 92.9, 91.1, 93.2, 91.9, 93.9, 92.5, 91.6, 93.5, 92.4, 94.1, 92.0, 93.6, 93.0,
  93.9, 92.1, 92.7, 94.5, 92.4, 93.3, 94.9, 92.6, 94.1, 93.0, 95.1, 92.9, 94.3, 92.5, 94.7, 93.4, 95.5, 94.0, 92.9, 95.0, 94.6, 93.3, 95.8, 94.2, 95.2,
  95.4, 93.6, 94.2, 96.1, 93.9, 94.8, 96.3, 94.0, 95.6, 94.5, 96.5, 94.3, 95.7, 93.9, 96.2, 94.6, 96.8, 95.3, 94.2, 96.0, 95.7, 94.4, 97.0, 95.5, 96.4,
  96.8, 95.0, 95.7, 97.5, 95.3, 96.2, 97.8, 95.5, 97.0, 96.0, 98.0, 95.8, 97.2, 95.4, 97.6, 95.9, 98.2, 96.8, 95.7, 97.9, 97.4, 96.1, 98.7, 97.0, 98.1,
  98.5, 96.6, 97.3, 99.1, 97.0, 97.8, 99.4, 97.2, 98.8, 97.6, 99.6, 97.5, 98.9, 97.1, 99.3, 97.7, 99.8, 98.4, 97.9, 99.5, 98.2, 100.1, 98.0, 99.7, 100.6
];

/* Fluency, even iterations */
var flu1Even = [
  80.1, 78.9, 79.6, 81.0, 79.4, 80.8, 79.2, 81.3, 80.0, 78.9, 79.7, 81.4, 80.5, 79.1, 81.8, 80.9, 79.5, 82.1, 80.4, 81.3, 79.8, 82.0, 81.0, 80.2, 82.5,
  81.9, 80.4, 82.6, 81.3, 80.1, 82.3, 83.4, 81.5, 80.6, 82.9, 81.8, 83.2, 82.4, 81.0, 84.0, 83.1, 81.7, 84.1, 82.3, 83.5, 81.6, 83.9, 82.9, 84.6, 82.4,
  82.9, 84.3, 83.6, 82.1, 84.8, 84.0, 82.8, 85.2, 83.5, 84.6, 85.0, 83.3, 84.1, 85.7, 83.8, 84.9, 86.2, 83.9, 85.3, 84.4, 85.6, 84.0, 86.4, 85.1, 83.9,
  84.6, 86.2, 85.0, 83.9, 86.5, 85.4, 84.3, 86.7, 85.9, 84.7, 86.1, 84.9, 87.0, 85.2, 86.4, 87.2, 85.6, 84.8, 86.8, 85.3, 86.5, 87.4, 85.8, 86.9, 85.0,
  87.0, 85.7, 86.4, 88.2, 86.6, 85.9, 87.5, 86.8, 85.4, 88.0, 86.3, 87.7, 88.6, 86.1, 87.2, 85.7, 87.9, 86.6, 88.4, 87.3, 86.0, 88.2, 87.5, 86.6, 88.9,
  86.9, 88.1, 87.4, 89.0, 86.5, 88.3, 87.0, 89.4, 88.6, 87.2, 88.9, 87.6, 89.8, 88.2, 87.1, 89.2, 88.5, 87.8, 90.0, 88.7, 89.6, 88.1, 90.3, 89.0, 88.4,
  89.4, 88.2, 90.3, 89.1, 87.9, 89.7, 90.8, 88.6, 89.3, 90.4, 88.9, 90.1, 91.1, 89.5, 88.6, 90.7, 89.2, 91.4, 90.0, 88.8, 90.5, 91.2, 89.6, 90.9, 89.4,
  90.6, 89.6, 91.6, 90.1, 91.0, 89.5, 91.3, 90.6, 92.1, 90.2, 91.1, 89.9, 91.9, 90.8, 89.7, 91.5, 90.3, 92.2, 91.2, 90.1, 91.6, 92.5, 90.7, 91.4, 90.4,
  91.5, 90.4, 92.2, 91.0, 92.7, 91.8, 90.8, 92.5, 92.0, 91.2, 93.0, 91.9, 92.3, 90.9, 93.3, 92.0, 93.8, 92.6, 91.6, 93.1, 93.5, 92.4, 94.2, 92.9, 93.3,
  93.6, 92.6, 94.4, 93.4, 92.3, 94.1, 93.0, 95.0, 94.2, 93.4, 94.6, 93.7, 95.3, 94.0, 95.8, 94.5, 93.6, 95.5, 94.9, 96.2, 95.3, 94.4, 96.6, 95.2, 94.8
];
var flu2Even = [
  87.3, 85.7, 88.2, 86.5, 87.0, 88.3, 86.4, 87.6, 85.8, 88.7, 86.9, 88.0, 86.2, 89.0, 87.3, 85.9, 88.5, 87.7, 86.6, 89.2, 88.1, 86.5, 88.9, 87.2, 89.5,
  88.1, 86.8, 89.2, 87.7, 88.5, 89.6, 87.5, 88.9, 87.0, 89.8, 88.3, 90.1, 87.4, 88.8, 89.4, 87.6, 89.9, 88.6, 90.4, 87.9, 89.3, 88.0, 90.2, 89.0, 90.8,
  89.5, 87.9, 90.2, 88.7, 89.6, 90.6, 88.5, 89.9, 91.2, 89.0, 90.0, 91.5, 88.9, 90.3, 91.0, 89.2, 91.7, 90.5, 89.6, 92.0, 90.8, 89.4, 91.6, 90.0, 92.2,
  90.9, 89.3, 91.5, 90.0, 92.0, 91.2, 89.9, 92.3, 90.6, 91.6, 92.0, 90.4, 91.2, 92.6, 89.8, 91.8, 93.0, 90.9, 92.1, 91.3, 92.6, 90.7, 93.2, 91.9, 92.8,
  92.2, 90.9, 93.1, 91.6, 92.7, 93.3, 91.4, 92.5, 94.0, 92.0, 93.6, 92.3, 94.4, 91.9, 93.1, 94.2, 92.6, 93.9, 95.1, 93.0, 93.8, 94.9, 92.8, 94.5, 93.6,
  94.2, 92.9, 95.0, 93.6, 94.6, 95.3, 93.5, 94.4, 96.0, 93.9, 95.0, 96.4, 94.1, 95.6, 94.7, 96.1, 94.5, 95.5, 96.9, 95.1, 95.8, 94.6, 96.6, 95.4, 97.0,
  95.9, 94.6, 96.5, 95.3, 96.8, 95.6, 97.2, 96.0, 94.9, 97.0, 96.3, 97.6, 95.5, 96.9, 95.8, 97.5, 96.2, 98.0, 96.7, 95.6, 97.1, 98.3, 96.4, 97.7, 96.9,
  97.2, 95.9, 98.1, 96.5, 97.6, 98.3, 96.6, 97.4, 99.0, 96.9, 98.0, 99.3, 97.2, 97.9, 98.6, 97.1, 99.2, 98.0, 96.8, 99.5, 98.4, 97.3, 99.7, 98.1, 97.7,
  98.5, 97.1, 99.3, 97.9, 98.8, 99.6, 97.7, 98.6, 100.2, 98.2, 99.4, 100.6, 98.3, 99.8, 98.9, 100.3, 99.0, 101.0, 99.5, 98.4, 100.0, 101.2, 99.1, 100.6, 99.8,
  100.0, 98.7, 100.9, 99.3, 100.5, 101.2, 99.6, 100.3, 102.0, 99.9, 100.8, 102.3, 100.1, 101.1, 99.5, 101.5, 100.4, 102.5, 101.0, 100.2, 101.6, 100.7, 102.1, 101.0, 101.8
];
var flu3Even = [
  87.6, 89.7, 88.3, 90.6, 89.0, 90.2, 88.1, 91.2, 89.5, 88.8, 90.7, 89.2, 88.4, 91.6, 89.9, 88.6, 90.9, 89.7, 91.4, 90.1, 89.3, 91.7, 90.5, 88.9, 91.0,
  91.3, 89.1, 90.7, 92.0, 90.3, 89.5, 91.8, 90.9, 92.7, 90.1, 91.4, 89.8, 92.3, 91.0, 90.4, 92.1, 90.6, 89.6, 91.9, 92.5, 90.2, 91.6, 93.0, 90.8, 91.9,
  91.8, 90.6, 92.5, 91.2, 93.1, 92.6, 91.0, 93.8, 92.1, 91.5, 93.0, 91.7, 94.0, 92.4, 93.4, 91.9, 94.3, 93.1, 92.2, 94.8, 93.5, 92.1, 94.5, 93.0, 94.0,
  93.9, 92.5, 94.6, 93.2, 94.1, 95.0, 93.0, 94.2, 95.8, 93.6, 94.7, 93.3, 95.5, 94.0, 95.9, 95.2, 93.9, 96.2, 94.5, 95.0, 94.3, 96.5, 95.4, 93.9, 95.8,
  95.6, 94.4, 96.5, 95.1, 96.0, 96.7, 94.9, 95.9, 97.5, 95.3, 96.4, 97.8, 95.6, 96.8, 95.2, 97.4, 96.0, 98.3, 96.6, 97.1, 96.3, 98.6, 97.2, 95.9, 97.8,
  97.7, 96.4, 98.6, 97.1, 98.0, 98.8, 96.9, 97.8, 99.5, 97.4, 98.4, 99.8, 97.6, 98.9, 97.2, 99.1, 97.8, 100.1, 98.5, 99.4, 98.0, 100.3, 98.9, 97.6, 99.7,
  99.3, 97.9, 100.1, 98.6, 99.6, 100.5, 98.4, 99.4, 100.9, 98.8, 99.5, 101.0, 98.7, 100.0, 99.2, 100.6, 99.0, 101.4, 99.8, 98.5, 100.2, 99.3, 101.5, 100.0, 99.1,
  100.3, 98.9, 101.1, 99.6, 100.7, 101.5, 99.5, 100.4, 102.0, 99.8, 100.6, 101.9, 99.6, 100.9, 100.2, 101.6, 100.1, 102.4, 100.8, 99.7, 101.3, 100.3, 102.1, 100.7, 101.6,
  101.4, 100.0, 102.2, 100.7, 101.6, 102.6, 100.8, 101.7, 103.4, 101.2, 102.3, 103.6, 101.4, 102.7, 101.0, 103.1, 101.8, 104.0, 102.4, 101.5, 103.0, 101.9, 104.2, 102.6, 103.4,
  103.3, 101.9, 104.1, 102.6, 103.6, 104.4, 102.5, 103.4, 105.0, 102.9, 104.0, 105.4, 103.2, 104.5, 103.0, 104.9, 103.6, 105.6, 104.2, 103.3, 104.8, 103.9, 105.2, 104.3, 105.5
];
var flu4Even = [
  92.4, 93.0, 91.7, 93.9, 92.6, 93.4, 92.0, 94.5, 93.1, 92.3, 93.9, 92.8, 94.1, 93.5, 95.0, 92.9, 94.6, 93.7, 92.6, 95.2, 94.1, 93.3, 94.9, 93.8, 95.4,
  94.3, 93.4, 95.2, 94.0, 95.7, 94.8, 93.6, 95.5, 94.2, 96.2, 95.1, 94.0, 96.0, 95.4, 94.5, 96.1, 95.0, 96.8, 94.8, 95.6, 96.3, 94.9, 97.0, 95.8, 96.5,
  95.9, 96.5, 95.2, 97.3, 96.0, 96.7, 95.5, 97.6, 96.3, 97.1, 95.8, 97.4, 96.6, 98.1, 97.0, 96.4, 98.0, 97.3, 96.2, 98.3, 97.5, 96.8, 98.6, 97.2, 98.0,
  97.5, 96.6, 98.3, 97.1, 98.8, 98.0, 96.9, 98.6, 97.7, 99.2, 98.1, 97.3, 99.0, 98.5, 97.6, 99.3, 98.2, 99.7, 98.0, 98.7, 99.4, 97.9, 99.9, 98.8, 99.6,
  98.9, 98.0, 99.8, 98.6, 100.2, 99.5, 98.3, 100.4, 99.1, 100.0, 99.6, 100.8, 99.0, 100.3, 101.1, 100.5, 99.3, 101.4, 100.0, 100.9, 101.0, 99.8, 101.6, 100.6, 101.3,
  100.7, 99.9, 101.6, 100.4, 102.1, 101.2, 100.2, 101.9, 100.9, 102.4, 101.6, 100.5, 102.5, 101.3, 102.0, 102.7, 101.1, 102.2, 103.0, 101.5, 102.8, 101.8, 103.2, 102.1, 103.4,
  102.4, 101.6, 103.1, 102.0, 103.7, 102.7, 101.8, 103.4, 102.5, 104.0, 103.1, 102.3, 103.8, 102.4, 104.2, 103.3, 102.1, 104.0, 103.5, 102.7, 103.9, 102.9, 104.6, 103.6, 102.8,
  103.7, 102.8, 104.5, 103.4, 105.0, 103.9, 103.0, 104.7, 104.1, 105.3, 104.3, 103.4, 105.1, 103.8, 104.8, 105.5, 104.2, 103.5, 105.0, 104.4, 104.9, 103.8, 105.7, 104.6, 105.2,
  104.8, 104.0, 105.6, 104.5, 106.0, 105.0, 104.3, 105.8, 104.9, 106.4, 105.4, 104.6, 106.2, 105.1, 106.6, 105.7, 104.8, 106.4, 105.5, 107.0, 106.1, 105.0, 106.8, 105.9, 106.5,
  106.0, 105.2, 107.0, 105.7, 107.7, 106.3, 105.5, 107.2, 106.1, 107.9, 106.5, 105.9, 107.4, 106.6, 108.0, 106.9, 106.0, 107.8, 106.4, 107.3, 107.1, 106.3, 107.5, 106.8, 106.2
];
var flu5Even = [
  82.4, 84.5, 85.8, 83.9, 85.2, 86.0, 84.6, 83.7, 85.7, 84.3, 85.9, 84.1, 86.4, 85.0, 83.9, 86.2, 85.1, 84.4, 86.7, 85.8, 84.9, 86.9, 85.6, 86.3, 85.0,
  85.5, 87.0, 86.1, 84.8, 86.7, 87.2, 85.6, 86.5, 88.0, 86.0, 86.4, 87.5, 85.8, 87.9, 86.6, 87.1, 86.0, 88.3, 87.0, 86.2, 87.6, 86.5, 88.5, 87.3, 88.1,
  87.6, 86.4, 88.5, 87.1, 88.0, 88.9, 87.0, 87.8, 89.4, 86.8, 88.2, 89.6, 87.4, 88.8, 87.7, 89.2, 87.9, 90.0, 88.3, 87.6, 88.6, 89.9, 88.0, 89.3, 88.9,
  89.3, 88.0, 90.2, 88.7, 89.6, 90.5, 88.6, 89.5, 91.0, 89.2, 90.1, 91.4, 89.4, 90.7, 89.0, 90.8, 89.5, 91.6, 90.3, 89.7, 90.0, 91.8, 90.4, 89.6, 91.2,
  90.9, 89.7, 91.5, 90.3, 91.2, 92.0, 90.2, 91.1, 92.5, 90.6, 91.5, 92.8, 90.8, 91.9, 90.5, 92.1, 91.0, 93.0, 91.5, 90.9, 91.8, 92.9, 91.2, 92.6, 91.7,
  92.2, 91.0, 92.9, 91.6, 92.5, 93.1, 91.5, 92.4, 93.9, 91.9, 92.7, 94.0, 92.1, 93.3, 92.0, 93.5, 92.3, 94.4, 92.9, 92.2, 93.1, 94.3, 92.6, 93.8, 92.9,
  93.4, 92.2, 94.2, 92.9, 93.8, 94.5, 92.8, 93.7, 95.2, 93.3, 94.1, 95.4, 93.5, 94.6, 93.2, 94.8, 93.7, 95.8, 94.3, 93.6, 94.6, 95.7, 94.0, 95.2, 94.4,
  94.9, 93.7, 95.6, 94.4, 95.3, 96.0, 94.3, 95.2, 96.6, 94.8, 95.5, 96.8, 94.9, 96.1, 94.6, 96.3, 95.1, 97.2, 95.7, 95.0, 95.9, 97.0, 95.4, 96.5, 95.7,
  96.3, 95.1, 97.0, 95.8, 96.6, 97.4, 95.7, 96.6, 98.0, 96.2, 97.0, 98.3, 96.4, 97.5, 96.1, 97.8, 96.6, 98.7, 97.2, 96.5, 97.4, 98.5, 96.9, 98.2, 97.7,
  97.9, 96.7, 98.6, 97.3, 98.2, 99.0, 97.3, 98.2, 99.6, 97.8, 98.6, 99.9, 98.0, 99.2, 97.7, 99.4, 98.2, 100.3, 98.8, 98.1, 99.0, 100.0, 98.4, 99.6, 100.8
];

/* Layout */
var width = 1187;
var height = 1323;
var plotLeft = 103;
var plotRight = 1190;

var svg = d3.select("#chart").append("svg")
  .attr("width", width)
  .attr("height", height);

var x = d3.scaleLinear().domain([0, 500]).range([150, 1140]);

/* merge odd / even iteration readings into one ordered series */
function seriesPoints(odd, even) {
  var pts = [];
  odd.forEach((v, i) => pts.push({it: oddIterations[i], v: v}));
  even.forEach((v, i) => pts.push({it: evenIterations[i], v: v}));
  return pts.filter(d => d.it !== undefined).sort((a, b) => a.it - b.it);
}

function drawPanel(p) {
  var y = d3.scaleLinear().domain(p.yDomain).range(p.yRange);
  var g = svg.append("g");

  /* grid */
  g.append("g").attr("class", "grid")
    .attr("transform", `translate(0,${p.bottom})`)
    .call(d3.axisBottom(x).tickValues(iterationTicks).tickSize(-(p.bottom - p.top)).tickFormat(""));
  g.append("g").attr("class", "grid")
    .attr("transform", `translate(${plotLeft},0)`)
    .call(d3.axisLeft(y).tickValues(p.ticks).tickSize(-(plotRight - plotLeft)).tickFormat(""));

  /* lines + markers */
  var line = d3.line()
    .x(d => x(d.it))
    .y(d => y(d.v));

  p.series.forEach(function(s, k) {
    var pts = seriesPoints(s[0], s[1]);
    var sg = g.append("g");
    sg.append("path")
      .datum(pts)
      .attr("d", line)
      .attr("fill", "none")
      .attr("stroke", colors[k])
      .attr("stroke-width", 1.5)
      .attr("stroke-opacity", 0.85);
    sg.selectAll("circle")
      .data(pts).enter()
      .append("circle")
      .attr("cx", d => x(d.it))
      .attr("cy", d => y(d.v))
      .attr("r", 3.2)
      .attr("fill", colors[k])
      .attr("fill-opacity", 0.9);
  });

  /* frame */
  g.append("rect")
    .attr("x", plotLeft).attr("y", p.top)
    .attr("width", plotRight - plotLeft).attr("height", p.bottom - p.top)
    .attr("fill", "none")
    .attr("stroke", "#cccccc")
    .attr("stroke-width", 1.6);

  /* y tick labels */
  var ya = g.append("g")
    .attr("class", "tick-label")
    .attr("transform", `translate(${plotLeft},0)`)
    .call(d3.axisLeft(y).tickValues(p.ticks).tickSize(0).tickPadding(19))
    .attr("font-size", null).attr("font-family", null);
  ya.select(".domain").remove();

  if (p.showX) {
    var xa = g.append("g")
      .attr("class", "tick-label")
      .attr("transform", `translate(0,${p.bottom})`)
      .call(d3.axisBottom(x).tickValues(iterationTicks).tickSize(0).tickPadding(21))
      .attr("font-size", null).attr("font-family", null);
    xa.select(".domain").remove();

    g.append("text")
      .attr("x", (plotLeft + plotRight) / 2)
      .attr("y", 1317)
      .attr("text-anchor", "middle")
      .style("font-size", "21.5px")
      .text("Iteration");
  }

  /* title + y label */
  g.append("text")
    .attr("x", (plotLeft + plotRight) / 2)
    .attr("y", p.titleY)
    .attr("text-anchor", "middle")
    .style("font-size", "26px")
    .text(p.title);

  g.append("text")
    .attr("transform", `translate(30,${(p.top + p.bottom) / 2}) rotate(-90)`)
    .attr("text-anchor", "middle")
    .style("font-size", "21px")
    .text(p.yLabel);

  /* legend */
  var lg = g.append("g").attr("class", "legend");
  lg.append("rect")
    .attr("x", p.legend.x).attr("y", p.legend.y)
    .attr("width", p.legend.w).attr("height", 148)
    .attr("rx", 4)
    .attr("fill", "#fff").attr("fill-opacity", 0.8)
    .attr("stroke", "#d4d4d4");
  learners.forEach(function(name, k) {
    var cy = p.legend.y + 17 + k * 28.5;
    lg.append("line")
      .attr("x1", p.legend.x + 7).attr("x2", p.legend.x + 45)
      .attr("y1", cy).attr("y2", cy)
      .attr("stroke", colors[k]).attr("stroke-width", 1.6).attr("stroke-opacity", 0.8);
    lg.append("circle")
      .attr("cx", p.legend.x + 26).attr("cy", cy).attr("r", 3.2)
      .attr("fill", colors[k]).attr("fill-opacity", 0.9);
    lg.append("text")
      .attr("x", p.legend.x + 60).attr("y", cy).attr("dy", "0.35em")
      .text(name + " - " + p.metric);
  });
}

drawPanel({
  top: 43, bottom: 617,
  yDomain: [85, 125], yRange: [611, 63],
  ticks: accuracyTicks,
  series: [[pron1Odd, pron1Even], [pron2Odd, pron2Even], [pron3Odd, pron3Even], [pron4Odd, pron4Even], [pron5Odd, pron5Even]],
  title: "Pronunciation Trends Over Iterations for All Learners",
  titleY: 32,
  yLabel: "Accuracy (%)",
  metric: "Pronunciation",
  legend: {x: 875, y: 459, w: 306},
  showX: false
});

drawPanel({
  top: 681, bottom: 1253,
  yDomain: [80, 110], yRange: [1204, 681],
  ticks: fluencyTicks,
  series: [[flu1Odd, flu1Even], [flu2Odd, flu2Even], [flu3Odd, flu3Even], [flu4Odd, flu4Even], [flu5Odd, flu5Even]],
  title: "Fluency Trends Over Iterations for All Learners",
  titleY: 669,
  yLabel: "Fluency (%)",
  metric: "Fluency",
  legend: {x: 931, y: 1097, w: 250},
  showX: true
});
</script>
</body>
</html>
